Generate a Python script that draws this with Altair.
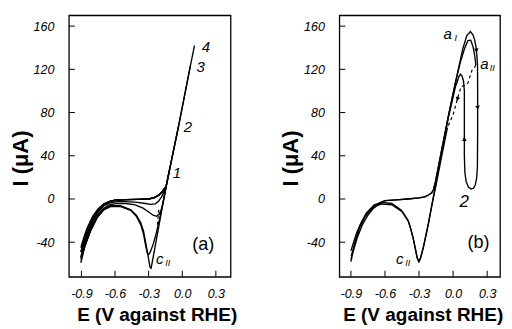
import altair as alt
import pandas as pd

X_TICKS = [-0.9, -0.6, -0.3, 0.0, 0.3]
Y_TICKS = [-40, 0, 40, 80, 120, 160]

# ---------------- panel (a): four cycles with growing anodic limit ----------------
a_left_x = [-0.905, -0.88, -0.85, -0.8, -0.75, -0.7, -0.65]
a_left_y1 = [-45, -36, -27, -16, -9, -4.5, -2.2]
a_left_y2 = [-49, -39, -29, -17, -9.5, -4.8, -2.3]
a_left_y3 = [-54, -43, -32, -19, -10.5, -5.2, -2.5]
a_left_y4 = [-59, -47, -35, -20.5, -11, -5.5, -2.6]
a_plat_x = [-0.6, -0.5, -0.4, -0.3, -0.25, -0.21, -0.18, -0.16, -0.145]
a_plat_y = [-1.2, -0.6, -0.4, 0, 1.2, 3.5, 6.5, 9.5, 11]
a_vert_x = [-0.113, -0.033, 0.072, 0.109]
a_vert_y = [27.4, 67.4, 123, 142]
a_tail1_x = [-0.14, -0.16, -0.185, -0.21, -0.24, -0.28, -0.33, -0.4, -0.5, -0.58, -0.65, -0.7, -0.75, -0.8, -0.85, -0.88, -0.905]
a_tail1_y = [13, 7, 2, -2, -4.5, -5, -4.2, -3.2, -2.5, -2.5, -3.8, -6.5, -12, -20, -32, -41, -49]
a_tail2_x = [-0.145, -0.165, -0.185, -0.205, -0.23, -0.26, -0.3, -0.35, -0.42, -0.5, -0.58, -0.65, -0.7, -0.75, -0.8, -0.85, -0.88, -0.905]
a_tail2_y = [11, 0, -9, -14, -16, -15, -12, -8.5, -5.5, -4.2, -4, -5.5, -8.5, -14, -23, -36, -45, -54]
a_tail3_x = [-0.145, -0.17, -0.2, -0.23, -0.26, -0.285, -0.3, -0.312, -0.325, -0.345, -0.37, -0.41, -0.46, -0.55, -0.64, -0.7, -0.76, -0.82, -0.87, -0.905]
a_tail3_y = [11, -3, -17, -31, -42, -49, -51.5, -50, -44, -33, -24, -16, -10.5, -7, -7, -10, -17.5, -30, -44, -56]
a_tail4_x = [-0.145, -0.17, -0.2, -0.235, -0.26, -0.278, -0.288, -0.298, -0.31, -0.325, -0.345, -0.37, -0.41, -0.46, -0.55, -0.64, -0.7, -0.76, -0.82, -0.87, -0.905]
a_tail4_y = [11, -3, -20, -40, -54, -64, -63, -57, -50, -41, -30, -22, -15, -10, -6.2, -6.3, -9.2, -16.5, -29.5, -44, -59]
a_dash_x = [-0.21, -0.217, -0.224]
a_dash_y = [-10, -18, -26]

a_num_text = ["1", "2", "3", "4"]
a_num_x = [-0.048, 0.05, 0.165, 0.21]
a_num_y = [24, 66.5, 122, 141]
a_tag_text = ["(a)"]
a_tag_x = [0.188]
a_tag_y = [-42.5]
a_sym_text = ["c"]
a_sym_x = [-0.2]
a_sym_y = [-56]
a_sub_text = ["II"]

# ---------------- panel (b): cycles into the passive region ----------------
b_left_x = [-0.9, -0.87, -0.845, -0.8, -0.75, -0.7, -0.65]
b_left_y1 = [-48, -38, -30, -20, -12.5, -7, -3.5]
b_left_y2 = [-56, -45, -36, -24, -15, -8.5, -4.5]
b_plat_x = [-0.6, -0.5, -0.4, -0.3, -0.25, -0.217, -0.19, -0.174, -0.155]
b_plat_y = [-1.5, -0.8, 0, 1, 2, 3.7, 5.5, 8.3, 16]
b_steep_x = [-0.098, -0.04, 0.021, 0.085, 0.12]
b_steep_y = [46.8, 77.6, 108, 139, 151]
b_outer_x = [0.152, 0.175, 0.19, 0.201, 0.209, 0.215, 0.216, 0.216, 0.214, 0.207, 0.195, 0.18, 0.158, 0.135, 0.115, 0.104, 0.099, 0.099, 0.099, 0.092, 0.078, 0.064, 0.05, 0.035]
b_outer_y = [155, 152, 147, 141, 133, 124, 100, 60, 30, 19, 13, 10, 9.2, 11, 16, 24, 40, 70, 100, 109, 114, 115.5, 113, 108]
b_ret_x = [0.021, -0.04, -0.098, -0.13, -0.15, -0.174, -0.217, -0.261, -0.285, -0.3, -0.315, -0.33, -0.348, -0.37, -0.392, -0.45, -0.537, -0.624, -0.697, -0.769, -0.828, -0.871, -0.9]
b_ret_y = [104, 76, 45, 28, 15, 2, -22.5, -44, -54, -58, -55, -47, -38, -29, -21, -11.7, -5.5, -4.6, -7, -14.8, -27, -44, -58]
b_inner_x = [-0.098, -0.04, 0.021, 0.06, 0.1, 0.13, 0.155, 0.175, 0.19, 0.2]
b_inner_y = [46.8, 77.6, 108, 125, 139, 146.5, 147, 141, 133, 124]
b_dash_x = [0.2, 0.185, 0.166, 0.129, 0.1, 0.07, 0.05, 0.027, 0.0, -0.03, -0.05]
b_dash_y = [124, 121, 119, 107, 105, 104, 97, 88.4, 78, 71, 66]
b_ret2_x = [-0.05, -0.1, -0.15, -0.178, -0.22, -0.262, -0.288, -0.302, -0.318, -0.335, -0.352, -0.375, -0.398, -0.455, -0.54, -0.625, -0.695, -0.765, -0.823, -0.866, -0.897]
b_ret2_y = [66, 40, 13, -1, -24, -45, -55, -58, -54, -45, -36, -27, -19.5, -10.5, -4.2, -3.2, -5.5, -13, -25, -41, -53]

b_arrow_down_x = [0.205, 0.216]
b_arrow_down_y = [138, 85]
b_arrow_up_x = [0.099]
b_arrow_up_y = [55]
b_arrow_dl_x = [0.04]
b_arrow_dl_y = [93]

b_num_text = ["2"]
b_num_x = [0.097]
b_num_y = [-2.8]
b_tag_text = ["(b)"]
b_tag_x = [0.223]
b_tag_y = [-40.9]
b_sym_text = ["a", "a", "c"]
b_sym_x = [-0.047, 0.275, -0.47]
b_sym_y = [152.5, 124.7, -55.5]
b_sub_text = ["I", "II", "II"]


def curves_df(curves):
    rows = []
    for name, xs, ys in curves:
        for i, (x, y) in enumerate(zip(xs, ys)):
            rows.append({"curve": name, "i": i, "x": x, "y": y})
    return pd.DataFrame(rows)


def pts_df(xs, ys, texts=None):
    d = {"x": xs, "y": ys}
    if texts is not None:
        d["t"] = texts
    return pd.DataFrame(d)


a_curves = []
lefts = [a_left_y1, a_left_y2, a_left_y3, a_left_y4]
tails = [(a_tail1_x, a_tail1_y), (a_tail2_x, a_tail2_y), (a_tail3_x, a_tail3_y), (a_tail4_x, a_tail4_y)]
for k in range(4):
    vx = a_vert_x[: k + 1]
    vy = a_vert_y[: k + 1]
    xs = a_left_x + a_plat_x + vx + vx[::-1][1:] + tails[k][0]
    ys = lefts[k] + a_plat_y + vy + vy[::-1][1:] + tails[k][1]
    a_curves.append((f"a{k+1}", xs, ys))
a_solid = curves_df(a_curves)
a_dashed = curves_df([("ad", a_dash_x, a_dash_y)])

b_solid = curves_df([
    ("b2", b_left_x + b_plat_x + b_steep_x + b_outer_x + b_ret_x,
     b_left_y2 + b_plat_y + b_steep_y + b_outer_y + b_ret_y),
    ("b1f", b_left_x + b_plat_x + b_inner_x, b_left_y1 + b_plat_y + b_inner_y),
    ("b1r", b_ret2_x, b_ret2_y),
])
b_dashed = curves_df([("bd", b_dash_x, b_dash_y)])

LABEL_FONT = "Liberation Sans"
W_A, W_B, H = 162, 161, 262


def panel(solid, dashed, xdom, width, title_x, texts, arrows):
    xs = alt.Scale(domain=xdom, nice=False, zero=False)
    ys = alt.Scale(domain=[-72, 170], nice=False, zero=False)
    xaxis = alt.Axis(
        values=X_TICKS, ticks=False, domain=False, grid=False,
        labelExpr="replace(datum.label, '\u2212', '-')",
        labelFont=LABEL_FONT, labelFontStyle="italic", labelFontSize=12.5,
        labelColor="black", labelPadding=11,
        title="E (V against RHE)", titleFont=LABEL_FONT, titleFontSize=19,
        titleFontWeight="bold", titleColor="black", titlePadding=5, titleX=title_x,
    )
    yaxis = alt.Axis(
        values=Y_TICKS, ticks=False, domain=False, grid=False,
        labelExpr="replace(datum.label, '\u2212', '-')",
        labelFont=LABEL_FONT, labelFontStyle="italic", labelFontSize=12.5,
        labelColor="black", labelPadding=15,
        title="I (\u03bcA)", titleFont=LABEL_FONT, titleFontSize=22,
        titleFontWeight="bold", titleColor="black", titlePadding=1, titleY=143,
    )
    X = lambda f="x": alt.X(f"{f}:Q", scale=xs, axis=xaxis, title="E (V against RHE)")
    Y = lambda f="y": alt.Y(f"{f}:Q", scale=ys, axis=yaxis, title="I (\u03bcA)")

    layers = [
        alt.Chart(solid).mark_line(color="black", strokeWidth=1.35).encode(
            x=X(), y=Y(), detail="curve:N", order="i:Q"),
        alt.Chart(dashed).mark_line(color="black", strokeWidth=1.2, strokeDash=[3, 3]).encode(
            x=X(), y=Y(), detail="curve:N", order="i:Q"),
        alt.Chart(pd.DataFrame({"x": X_TICKS})).mark_rule(color="black", strokeWidth=1).encode(
            x=X(), y=alt.value(H), y2=alt.value(H - 6)),
        alt.Chart(pd.DataFrame({"y": Y_TICKS})).mark_rule(color="black", strokeWidth=1).encode(
            y=Y(), x=alt.value(0), x2=alt.value(6)),
    ]
    for df, kw in texts:
        layers.append(alt.Chart(df).mark_text(color="black", font=LABEL_FONT, **kw).encode(
            x=X(), y=Y(), text="t:N"))
    for df, ang in arrows:
        layers.append(alt.Chart(df).mark_point(shape="triangle", filled=True, size=22,
                                               color="black", opacity=1, angle=ang).encode(x=X(), y=Y()))
    return alt.layer(*layers).properties(width=width, height=H)


num_kw = dict(fontStyle="italic", fontSize=15)
tag_kw = dict(fontSize=18)
sym_kw = dict(fontStyle="italic", fontSize=15)
sub_kw = dict(fontStyle="italic", fontSize=9, dx=8, dy=4)

pa = panel(
    a_solid, a_dashed, [-1.012, 0.431], W_A, W_A / 2 + 7,
    [(pts_df(a_num_x, a_num_y, a_num_text), num_kw),
     (pts_df(a_tag_x, a_tag_y, a_tag_text), tag_kw),
     (pts_df(a_sym_x, a_sym_y, a_sym_text), sym_kw),
     (pts_df(a_sym_x, a_sym_y, a_sub_text), sub_kw)],
    [],
)
pb = panel(
    b_solid, b_dashed, [-1.002, 0.413], W_B, W_B / 2 + 3,
    [(pts_df(b_num_x, b_num_y, b_num_text), dict(fontStyle="italic", fontSize=17)),
     (pts_df(b_tag_x, b_tag_y, b_tag_text), tag_kw),
     (pts_df(b_sym_x, b_sym_y, b_sym_text), sym_kw),
     (pts_df(b_sym_x, b_sym_y, b_sub_text), sub_kw)],
    [(pts_df(b_arrow_down_x, b_arrow_down_y), 175),
     (pts_df(b_arrow_up_x, b_arrow_up_y), 0),
     (pts_df(b_arrow_dl_x, b_arrow_dl_y), 196)],
)

chart = alt.hconcat(pa, pb, spacing=109, bounds="flush").properties(
    padding={"left": 0, "top": 6, "right": 0, "bottom": 0},
    background="white",
).configure_view(stroke="black", strokeWidth=1.3)

chart.save("out.html", embed_options={"renderer": "svg", "actions": False})
